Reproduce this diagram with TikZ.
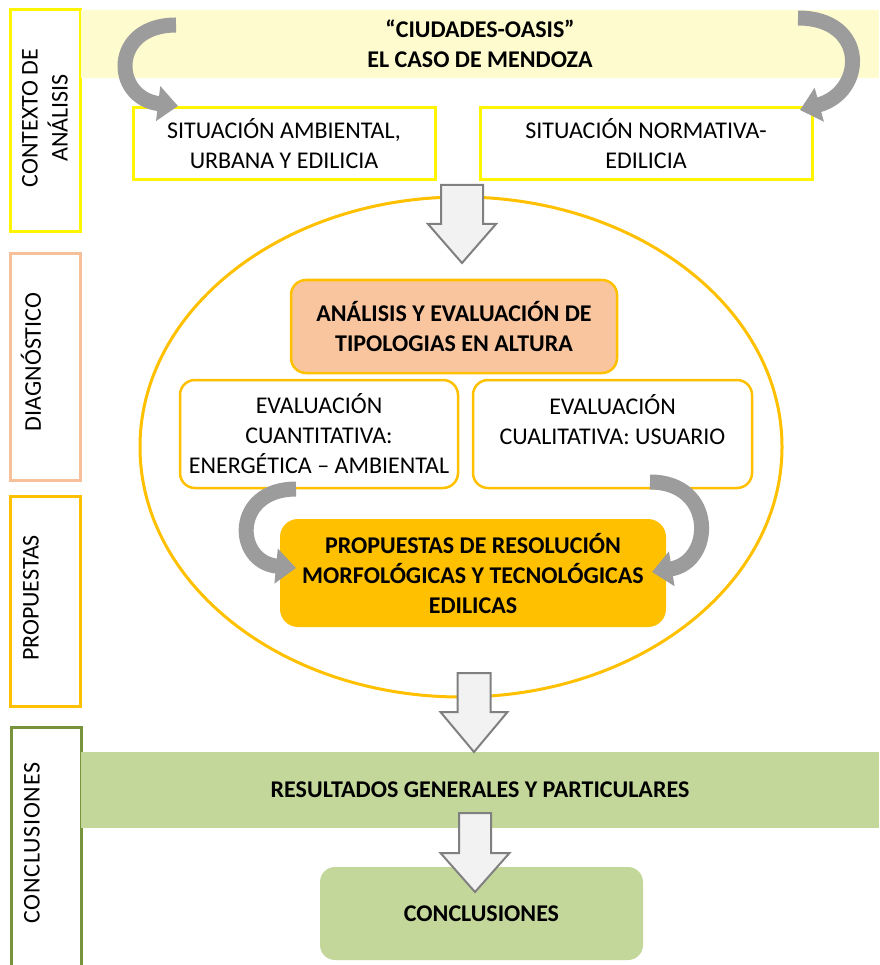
\documentclass[tikz,border=0pt]{standalone}
\usepackage{fontspec}
\setmainfont{Carlito}
\usetikzlibrary{arrows.meta, shapes.geometric}

\definecolor{bandyellow}{HTML}{FEFCCE}
\definecolor{boxyellow}{HTML}{FFF500}
\definecolor{peachline}{HTML}{F6C09A}
\definecolor{peachfill}{HTML}{F8C59F}
\definecolor{gold}{HTML}{FFC000}
\definecolor{greenfill}{HTML}{C4D79B}
\definecolor{olive}{HTML}{77933C}
\definecolor{arrowgray}{HTML}{9C9C9C}
\definecolor{blockfill}{HTML}{F2F2F2}
\definecolor{blockline}{HTML}{808080}

% big hollow arrow pointing down: x, top, head start, tip, shaft half width, head half width
\newcommand{\bigdownarrow}[6]{%
  \draw[blockarrow] (#1-#5,#2) -- (#1+#5,#2) -- (#1+#5,#3) -- (#1+#6,#3)
    -- (#1,#4) -- (#1-#6,#3) -- (#1-#5,#3) -- cycle;}

\begin{document}
\begin{tikzpicture}[x=1pt, y=-1pt,
    base/.style={font=\fontsize{24}{30}\selectfont, align=center, inner sep=0pt},
    sidebox/.style={line width=3pt, minimum width=70pt},
    sidelabel/.style={base, rotate=90},
    sitbox/.style={base, draw=boxyellow, line width=3pt, fill=white, minimum height=72pt},
    evalbox/.style={base, draw=gold, line width=2.5pt, fill=white, rounded corners=15pt,
      minimum height=108pt},
    blockarrow/.style={draw=blockline, fill=blockfill, line width=2pt, line join=miter},
    curvearrow/.style={draw=arrowgray, line width=15pt, -{Triangle[width=34pt,length=20pt]}}]
    \useasboundingbox (0,0) rectangle (879,965);

    % Side labels
    \node[sidebox, draw=boxyellow, minimum height=222pt] (ctxbox) at (45,121) {};
    \node[sidelabel] (ctxlbl) at (45,118) {CONTEXTO DE\\ANÁLISIS};
    \node[sidebox, draw=peachline, minimum height=226pt] (diagbox) at (45,367) {};
    \node[sidelabel] (diaglbl) at (31,362) {DIAGNÓSTICO};
    \node[sidebox, draw=gold, minimum height=210pt] (propbox) at (45,601) {};
    \node[sidelabel] (proplbl) at (31,598) {PROPUESTAS};
    \node[sidebox, draw=olive, minimum height=250pt] (conbox) at (46,852) {};
    \node[sidelabel, font=\fontsize{24}{30}\selectfont\addfontfeatures{LetterSpace=3}]
      (conlbl) at (32,843) {CONCLUSIONES};

    % Context
    \node[base, fill=bandyellow, minimum width=798pt, minimum height=68pt, font=\fontsize{24}{30}\selectfont\bfseries]
      (oasis) at (480,44) {“CIUDADES-OASIS”\\EL CASO DE MENDOZA};
    \node[sitbox, minimum width=302pt] (ambiental) at (284,144) {SITUACIÓN AMBIENTAL,\\URBANA Y EDILICIA};
    \node[sitbox, minimum width=332pt] (normativa) at (646,144) {SITUACIÓN NORMATIVA-\\EDILICIA};

    % Diagnosis and proposals
    \node[ellipse, draw=gold, line width=3pt, fill=white, minimum width=642pt, minimum height=500pt]
      (ring) at (461,447) {};
    \node[base, draw=gold, line width=2.5pt, fill=peachfill, rounded corners=15pt,
      minimum width=326pt, minimum height=93pt, font=\fontsize{24}{30}\selectfont\bfseries]
      (tipologias) at (454,326.5) {ANÁLISIS Y EVALUACIÓN DE\\TIPOLOGIAS EN ALTURA};
    \node[evalbox, minimum width=278pt] (cuanti) at (319,434)
      {EVALUACIÓN\\CUANTITATIVA:\\ENERGÉTICA -- AMBIENTAL};
    \node[evalbox, minimum width=279pt] (cuali) at (612.5,434)
      {EVALUACIÓN\\CUALITATIVA: USUARIO\\\mbox{}};
    \node[base, fill=gold, rounded corners=18pt, minimum width=386pt, minimum height=108pt,
      font=\fontsize{24}{30}\selectfont\bfseries]
      (resolucion) at (473,573) {PROPUESTAS DE RESOLUCIÓN\\MORFOLÓGICAS Y TECNOLÓGICAS\\EDILICAS};

    % Conclusions
    \node[base, fill=greenfill, minimum width=798pt, minimum height=76pt, font=\fontsize{24}{30}\selectfont\bfseries]
      (resultados) at (480,790) {RESULTADOS GENERALES Y PARTICULARES};
    \node[base, fill=greenfill, rounded corners=15pt, minimum width=323pt, minimum height=93pt,
      font=\fontsize{24}{30}\selectfont\bfseries]
      (conclusiones) at (481.5,913.5) {CONCLUSIONES};

    % Hollow arrows
    \bigdownarrow{462}{185}{224}{263}{21}{34}
    \bigdownarrow{474}{673}{712}{752}{16.5}{33.5}
    \bigdownarrow{475}{813}{853}{892}{16}{34.5}

    % Curved arrows
    \coordinate (bandL) at (176,25);
    \coordinate (ambtip) at (178,106);
    \draw[curvearrow] (bandL) .. controls (110,25) and (112,98) .. (ambtip);
    \coordinate (bandR) at (798,18);
    \coordinate (normtip) at (800,110);
    \draw[curvearrow] (bandR) .. controls (868,18) and (866,92) .. (normtip);
    \coordinate (cuantiS) at (296,489);
    \coordinate (resolL) at (296,568);
    \draw[curvearrow] (cuantiS) .. controls (232,489) and (234,562) .. (resolL);
    \coordinate (cualiS) at (650,482);
    \coordinate (resolR) at (652,572);
    \draw[curvearrow] (cualiS) .. controls (716,482) and (714,562) .. (resolR);

\end{tikzpicture}
\end{document}
